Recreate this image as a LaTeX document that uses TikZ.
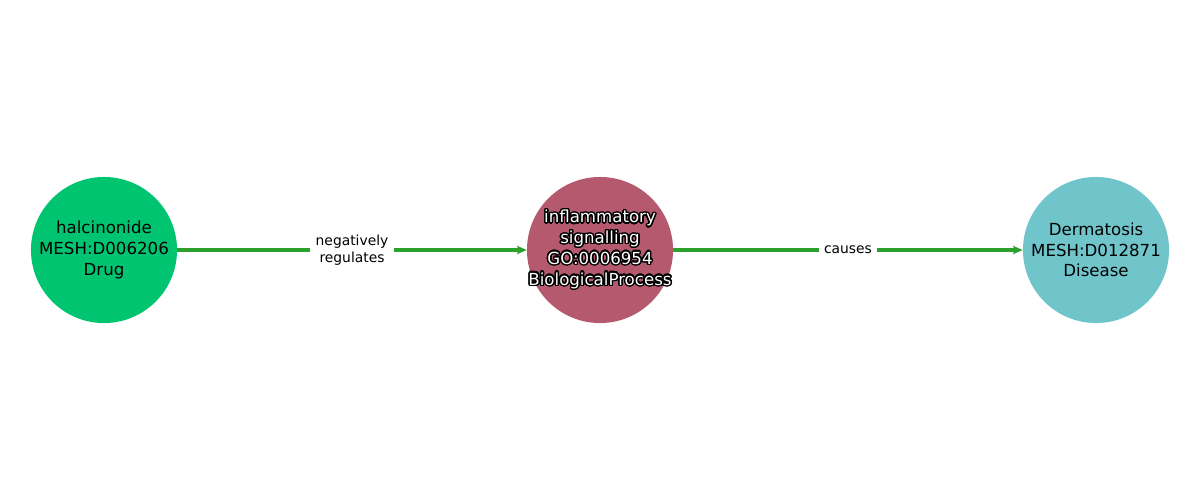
\documentclass[tikz,border=0pt]{standalone}
\usepackage{fontspec}
\setmainfont{DejaVu Sans}
\usepackage{contour}
\contourlength{1pt}
\contournumber{24}
\usetikzlibrary{arrows.meta}
\definecolor{drugc}{HTML}{00C470}
\definecolor{procc}{HTML}{B5596F}
\definecolor{disc}{HTML}{70C5CB}
\definecolor{edgec}{HTML}{2CA02C}
\begin{document}
\begin{tikzpicture}[x=0.01in,y=-0.01in,
  ent/.style={circle,minimum size=1.46in,inner sep=0pt},
  txt/.style={align=center,inner sep=0pt,font=\fontsize{12}{15}\selectfont},
  rel/.style={draw=edgec,line width=2.2pt,-{Stealth[length=7pt,width=6pt,inset=1.5pt]}},
  lab/.style={fill=white,inner xsep=4pt,inner ysep=2pt,align=center,font=\fontsize{10}{12}\selectfont,text=black}]
\useasboundingbox (0,0) rectangle (1200,500);
\node[ent,fill=drugc] (a) at (104,250) {};
\node[ent,fill=procc] (b) at (600,250) {};
\node[ent,fill=disc] (c) at (1096,250) {};
\node[txt] (ta) at (a.center) {halcinonide\\MESH:D006206\\Drug};
\node[txt,text=white] (tb) at (b.center) {\contour{black}{inflammatory}\\\contour{black}{signalling}\\\contour{black}{GO:0006954}\\\contour{black}{BiologicalProcess}};
\node[txt] (tc) at (c.center) {Dermatosis\\MESH:D012871\\Disease};
\draw[rel] (a) -- node[lab] (l1) {negatively\\regulates} (b);
\draw[rel] (b) -- node[lab] (l2) {causes} (c);
\end{tikzpicture}
\end{document}
